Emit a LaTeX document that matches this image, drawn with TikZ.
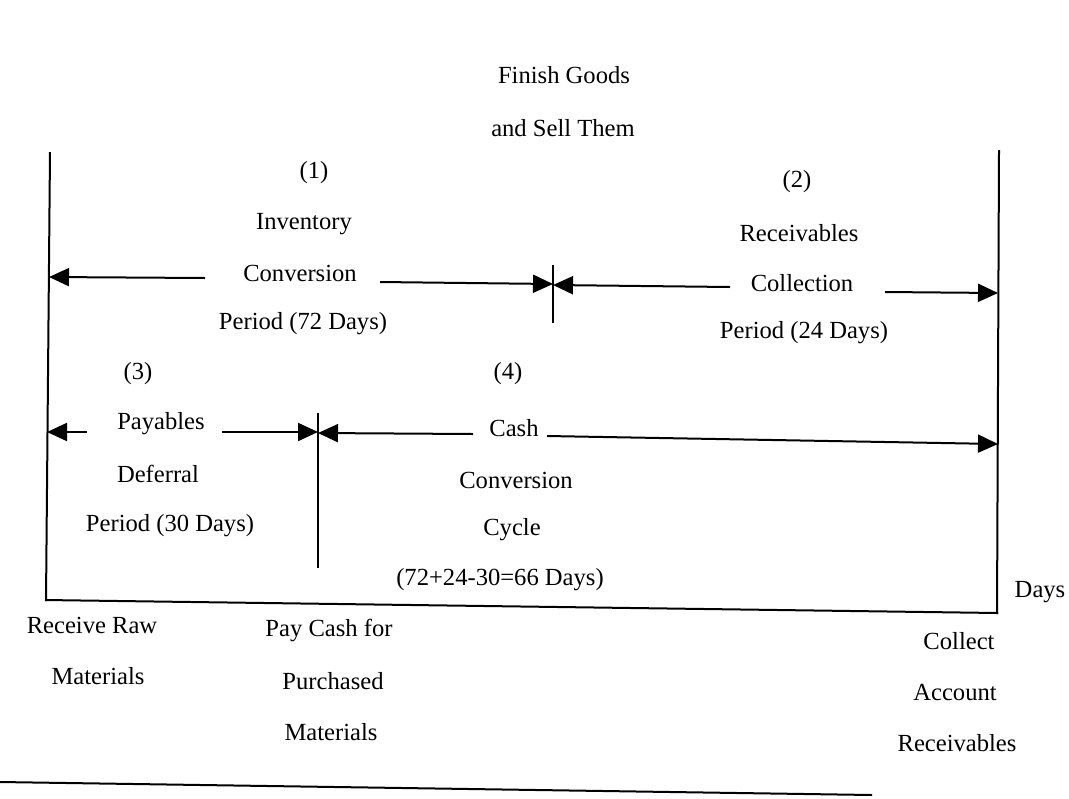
\documentclass[tikz,border=0pt]{standalone}
\usepackage{fontspec}
\setmainfont{Liberation Serif}
\usetikzlibrary{arrows.meta}
\begin{document}
\begin{tikzpicture}[x=0.5pt,y=-0.5pt,
  line width=1pt,
  lbl/.style={inner sep=0pt,anchor=center,font=\fontsize{12.3pt}{14pt}\selectfont},
  arr/.style={-{Triangle[length=10pt,width=9pt]}},
  seg/.style={line width=1pt}]
\useasboundingbox (0,0) rectangle (1069,798);
% frame lines
\coordinate (LT) at (50,152);
\coordinate (LB) at (46,601);
\coordinate (RT) at (999,150);
\coordinate (RB) at (997,614);
\coordinate (BL) at (45,600);
\coordinate (BR) at (998,613);
\draw[seg] (LT) -- (LB);
\draw[seg] (RT) -- (RB);
\draw[seg] (BL) -- (BR);
% bottom rule
\coordinate (FL) at (0,782);
\coordinate (FR) at (872,795);
\draw[seg] (FL) -- (FR);
% ticks
\coordinate (T1a) at (553,265);
\coordinate (T1b) at (553,323);
\draw[seg] (T1a) -- (T1b);
\coordinate (T2a) at (318,413);
\coordinate (T2b) at (318,568);
\draw[seg] (T2a) -- (T2b);
% row 1 arrows
\coordinate (A1s) at (205,278);
\coordinate (A1t) at (49,277);
\draw[arr] (A1s) -- (A1t);
\coordinate (A2s) at (380,282);
\coordinate (A2t) at (553,284);
\draw[arr] (A2s) -- (A2t);
\coordinate (A3s) at (730,287);
\coordinate (A3t) at (553,285);
\draw[arr] (A3s) -- (A3t);
\coordinate (A4s) at (885,292);
\coordinate (A4t) at (998,293);
\draw[arr] (A4s) -- (A4t);
% row 2 arrows
\coordinate (B1s) at (87,432);
\coordinate (B1t) at (47,432);
\draw[arr] (B1s) -- (B1t);
\coordinate (B2s) at (222,432);
\coordinate (B2t) at (318,432);
\draw[arr] (B2s) -- (B2t);
\coordinate (B3s) at (473,434);
\coordinate (B3t) at (318,433);
\draw[arr] (B3s) -- (B3t);
\coordinate (B4s) at (547,436);
\coordinate (B4t) at (998,444);
\draw[arr] (B4s) -- (B4t);
% labels
\node[lbl] (fg1) at (564,75) {Finish Goods};
\node[lbl] (fg2) at (563,128) {and Sell Them};
\node[lbl] (n1) at (314,173) {(1)};
\node[lbl] (inv1) at (304,224) {Inventory};
\node[lbl] (inv2) at (300,273) {Conversion};
\node[lbl] (inv3) at (303,324) {Period (72 Days)};
\node[lbl] (n2) at (797,182) {(2)};
\node[lbl] (rc1) at (799,233) {Receivables};
\node[lbl] (rc2) at (802,283) {Collection};
\node[lbl] (rc3) at (804,333) {Period (24 Days)};
\node[lbl] (n3) at (138,374) {(3)};
\node[lbl] (pd1) at (161,424) {Payables};
\node[lbl] (pd2) at (158,474) {Deferral};
\node[lbl] (pd3) at (170,526) {Period (30 Days)};
\node[lbl] (n4) at (508,374) {(4)};
\node[lbl] (cc1) at (514,428) {Cash};
\node[lbl] (cc2) at (516,480) {Conversion};
\node[lbl] (cc3) at (512,530) {Cycle};
\node[lbl] (cc4) at (500,580) {(72+24-30=66 Days)};
\node[lbl] (days) at (1040,592) {Days};
\node[lbl] (rr1) at (92,625) {Receive Raw};
\node[lbl] (rr2) at (98,676) {Materials};
\node[lbl] (pc1) at (329,630) {Pay Cash for};
\node[lbl] (pc2) at (333,681) {Purchased};
\node[lbl] (pc3) at (331,732) {Materials};
\node[lbl] (ca1) at (959,641) {Collect};
\node[lbl] (ca2) at (955,692) {Account};
\node[lbl] (ca3) at (957,743) {Receivables};
\end{tikzpicture}
\end{document}
